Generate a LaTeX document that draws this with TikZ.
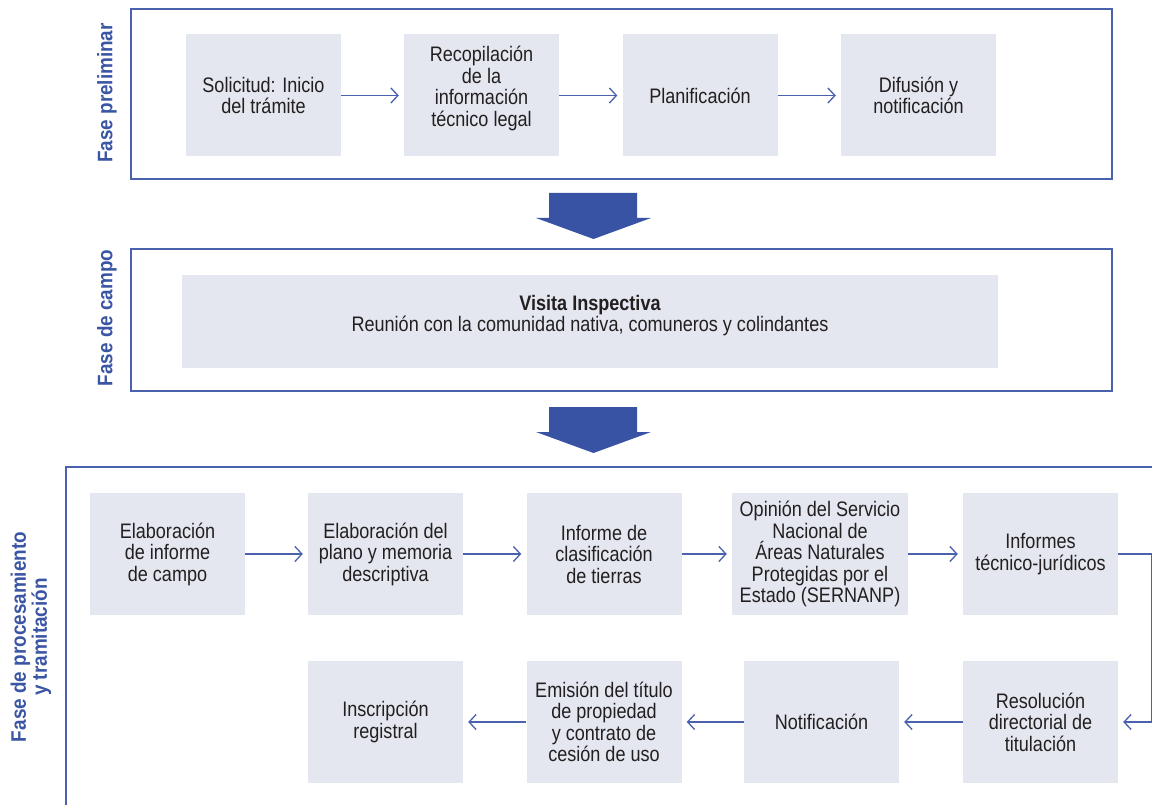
\documentclass[tikz,border=0pt]{standalone}
\usepackage{fontspec}
\setmainfont[FakeStretch=0.86]{Liberation Sans}
\newfontfamily\phasefont[FakeStretch=0.9]{Liberation Sans}
\usetikzlibrary{arrows.meta}
\definecolor{frameblue}{HTML}{4A62AE}
\definecolor{labelblue}{HTML}{3A55A4}
\definecolor{bigarrow}{HTML}{3953A4}
\definecolor{boxfill}{HTML}{E4E7F0}
\definecolor{txt}{HTML}{231F20}
\tikzset{
  frame/.style={draw=frameblue, line width=1.4pt},
  stepbox/.style={fill=boxfill, minimum width=155pt, minimum height=122pt, align=center, inner sep=0pt, text=txt, font=\fontsize{21}{21.5}\selectfont},
  conn/.style={draw=frameblue, line width=1.3pt, -{Straight Barb[length=7pt,width=15pt,line width=1.3pt]}, shorten >=5pt},
  phase/.style={text=labelblue, font=\phasefont\fontsize{21}{21}\selectfont\bfseries, rotate=90, align=center},
  bigarr/.style={fill=bigarrow, draw=none}
}
\begin{document}
\begin{tikzpicture}[x=1pt, y=-1pt]
\useasboundingbox[fill=white] (0,0) rectangle (1152,805);
% frames
\draw[frame] (131,9) rectangle (1112,179);
\draw[frame] (131,249) rectangle (1112,391);
\draw[frame] (1152,467) -- (66,467) -- (66,805);
% phase labels
\node[phase] (l1) at (107,93) {Fase preliminar};
\node[phase] (l2) at (107,318) {Fase de campo};
\node[phase] (l3) at (31,637) {Fase de procesamiento\\y tramitación};
% row 1
\node[stepbox] (a1) at (263.5,95.5) {Solicitud: Inicio\\del trámite};
\node[stepbox] (a2) at (481.5,95.5) {\raisebox{7pt}[\height][\depth]{\parbox{150pt}{\centering Recopilación\\de la\\información\\técnico legal}}};
\node[stepbox] (a3) at (700,95.5) {Planificación};
\node[stepbox] (a4) at (918.5,95.5) {Difusión y\\notificación};
\draw[conn] (a1) -- (a2);
\draw[conn] (a2) -- (a3);
\draw[conn] (a3) -- (a4);
% big arrows
\fill[bigarr] (549,193) -- (637,193) -- (637,218) -- (651,218) -- (593.5,239) -- (536,218) -- (549,218) -- cycle;
\fill[bigarr] (549,407) -- (637,407) -- (637,432) -- (651,432) -- (593.5,453) -- (536,432) -- (549,432) -- cycle;
% field phase
\node[stepbox, minimum width=816pt, minimum height=93pt] (v) at (590,321.5) {\raisebox{6pt}[\height][\depth]{\parbox{800pt}{\centering{\bfseries Visita Inspectiva}\\Reunión con la comunidad nativa, comuneros y colindantes}}};
% row 3
\node[stepbox] (b1) at (167.5,554) {Elaboración\\de informe\\de campo};
\node[stepbox] (b2) at (385.5,554) {Elaboración del\\plano y memoria\\descriptiva};
\node[stepbox] (b3) at (604,554) {Informe de\\clasificación\\de tierras};
\node[stepbox, minimum width=176pt] (b4) at (820,554) {Opinión del Servicio\\Nacional de\\Áreas Naturales\\Protegidas por el\\Estado (SERNANP)};
\node[stepbox] (b5) at (1040.5,554) {Informes\\técnico-jurídicos};
% row 4
\node[stepbox] (c1) at (385.5,722) {Inscripción\\registral};
\node[stepbox] (c2) at (604,722) {Emisión del título\\de propiedad\\y contrato de\\cesión de uso};
\node[stepbox] (c3) at (821.5,722) {Notificación};
\node[stepbox] (c4) at (1040.5,722) {Resolución\\directorial de\\titulación};
\draw[conn] (b1) -- (b2);
\draw[conn] (b2) -- (b3);
\draw[conn] (b3) -- (b4);
\draw[conn] (b4) -- (b5);
\draw[conn] (b5.east) -- ++(33,0) |- (c4.east);
\draw[conn] (c4) -- (c3);
\draw[conn] (c3) -- (c2);
\draw[conn] (c2) -- (c1);
\end{tikzpicture}
\end{document}
